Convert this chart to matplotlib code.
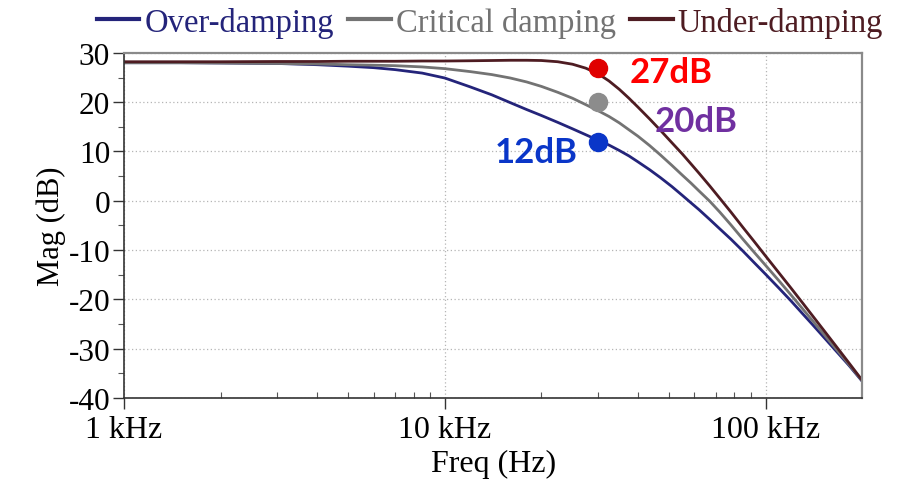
import matplotlib
matplotlib.use("Agg")
import matplotlib.pyplot as plt
from matplotlib.ticker import FixedLocator, NullFormatter, MultipleLocator

# Frequency points (Hz) and magnitude responses (dB) of the three damping cases
freq_hz = [1000, 1500, 2000, 3000, 4000, 5000, 6000, 7000, 8500, 10000,
           12000, 14000, 16000, 18000, 20000, 22500, 25000, 27500, 30000,
           32500, 35000, 37500, 40000, 43500, 47000, 51000, 55000, 58500,
           62000, 67000, 72000, 78000, 85000, 92000, 100000, 110000, 120000,
           130000, 140000, 152000, 165000, 182000, 200000]

mag_over = [28.0, 28.0, 27.95, 27.85, 27.6, 27.3, 27.0, 26.6, 25.9, 24.9,
            23.1, 21.5, 19.9, 18.5, 17.3, 15.9, 14.6, 13.4, 12.3,
            11.3, 10.2, 9.1, 7.9, 6.3, 4.7, 2.9, 1.1, -0.4,
            -1.8, -3.8, -5.7, -7.8, -10.2, -12.5, -14.9, -17.7, -20.3,
            -22.8, -25.1, -27.7, -30.3, -33.4, -36.6]
mag_critical = [28.0, 28.0, 27.95, 27.85, 27.75, 27.6, 27.5, 27.4, 27.15, 26.8,
                26.2, 25.6, 24.9, 24.1, 23.2, 22.0, 20.8, 19.5, 18.3,
                17.1, 15.8, 14.4, 13.1, 11.2, 9.3, 7.2, 5.2, 3.6,
                2.0, -0.1, -2.3, -4.9, -7.8, -10.4, -13.1, -16.2, -19.1,
                -21.8, -24.3, -27.1, -29.9, -33.2, -36.5]
mag_under = [28.2, 28.2, 28.2, 28.25, 28.25, 28.3, 28.3, 28.3, 28.35, 28.35,
             28.4, 28.45, 28.5, 28.5, 28.45, 28.2, 27.7, 26.9, 25.8,
             24.3, 22.6, 20.8, 19.0, 16.6, 14.3, 11.8, 9.5, 7.5,
             5.6, 3.0, 0.5, -2.3, -5.4, -8.2, -11.2, -14.6, -17.7,
             -20.6, -23.3, -26.3, -29.3, -32.9, -36.4]

series_labels = ["Over-damping", "Critical damping", "Under-damping"]
series_colors = ["#24247a", "#737373", "#4e1c22"]

# Highlighted gains at 30 kHz
marker_freq = 30000
marker_db = [27, 20, 12]
marker_text = ["27dB", "20dB", "12dB"]
marker_colors = ["#e00000", "#8c8c8c", "#0a36c8"]
text_colors = ["#ff0000", "#7030a0", "#0a36c8"]

y_ticks = [30, 20, 10, 0, -10, -20, -30, -40]
x_ticks = [1e3, 1e4, 1e5]
x_tick_labels = ["1 kHz", "10 kHz", "100 kHz"]

serif = ["Liberation Serif", "DejaVu Serif"]
plt.rcParams["font.family"] = serif
plt.rcParams["axes.unicode_minus"] = False

fig = plt.figure(figsize=(8.99, 4.81), dpi=100)
ax = fig.add_axes([0.138, 0.1705, 0.821, 0.7175])

lines = []
for mags, lab, col in zip([mag_over, mag_critical, mag_under], series_labels, series_colors):
    ln, = ax.plot(freq_hz, mags, color=col, lw=2.0, label=lab,
                  solid_joinstyle="round")
    lines.append(ln)

ax.set_xscale("log")
ax.set_xlim(1e3, 2e5)
ax.set_ylim(-40, 30)

ax.xaxis.set_major_locator(FixedLocator(x_ticks))
ax.set_xticklabels(x_tick_labels)
ax.xaxis.set_minor_locator(FixedLocator(
    [m * d for d in (1e3, 1e4, 1e5) for m in range(2, 10) if m * d < 2e5]))
ax.xaxis.set_minor_formatter(NullFormatter())
ax.set_yticks(y_ticks)
ax.yaxis.set_minor_locator(MultipleLocator(5))

ax.tick_params(axis="both", which="major", direction="out", length=8, width=1.0,
               color="#333333", pad=2)
ax.tick_params(axis="x", which="major", labelsize=23, pad=4)
ax.tick_params(axis="y", which="major", labelsize=22.5)
ax.tick_params(axis="x", which="minor", direction="in", length=4, width=0.8, color="#555555")
ax.tick_params(axis="y", which="minor", direction="out", length=4, width=0.8, color="#555555")

ax.grid(True, which="major", linestyle=(0, (1, 2)), color="#b5b5b5", lw=0.9)

for side in ("left", "bottom"):
    ax.spines[side].set_color("#333333")
    ax.spines[side].set_linewidth(1.2)
for side in ("top", "right"):
    ax.spines[side].set_color("#8a8a8a")
    ax.spines[side].set_linewidth(1.6)

ax.set_ylabel("Mag (dB)", fontsize=22, labelpad=2)
ax.set_xlabel("Freq (Hz)", fontsize=23, labelpad=4)

# Gain markers at 30 kHz with their labels
for val, mc in zip(marker_db, marker_colors):
    ax.plot([marker_freq], [val], "o", ms=13, color=mc, mec=mc, zorder=5)

label_font = ["Lato", "DejaVu Sans"]
ax.text(37700, 26.1, marker_text[0], color=text_colors[0], fontsize=25,
        fontweight="bold", family=label_font, va="center", ha="left")
ax.text(45000, 16.2, marker_text[1], color=text_colors[1], fontsize=25,
        fontweight="bold", family=label_font, va="center", ha="left")
ax.text(26000, 9.8, marker_text[2], color=text_colors[2], fontsize=25,
        fontweight="bold", family=label_font, va="center", ha="right")

leg = fig.legend(handles=lines, loc="upper center", bbox_to_anchor=(0.545, 1.045),
                 ncol=3, frameon=False, fontsize=23.5, handlelength=1.3,
                 handletextpad=0.15, columnspacing=0.45, labelcolor="linecolor")
for h in leg.legend_handles:
    h.set_linewidth(3.0)

fig.savefig("out.png", dpi=100, facecolor="white")
